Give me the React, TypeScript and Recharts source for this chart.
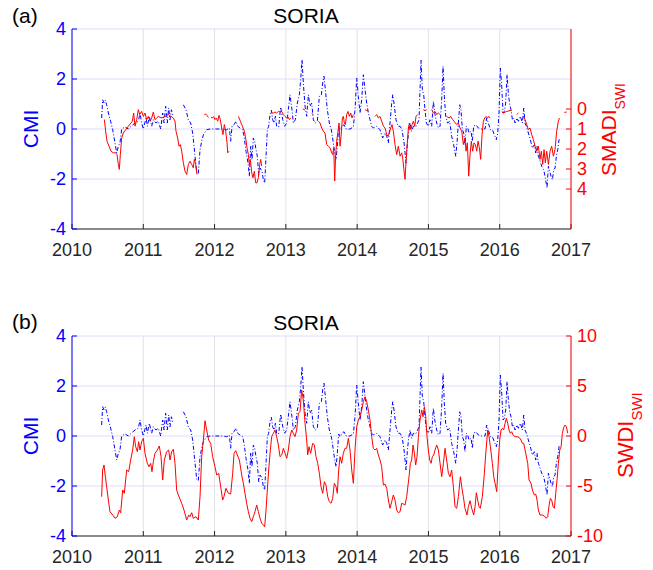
import React from 'react';
import { LineChart, Line, XAxis, YAxis, CartesianGrid } from 'recharts';

type Pt = [number, number | null];

const yearTicks = [2010, 2011, 2012, 2013, 2014, 2015, 2016, 2017];
const cmiTicks = [-4, -2, 0, 2, 4];
const smadiTicks = [0, 1, 2, 3, 4];
const swdiTicks = [-10, -5, 0, 5, 10];

// CMI (left axis), decimal year -> value
const cmiSeries: Pt[] = [
  [2010.416, 0.44], [2010.43, 1.17], [2010.449, 1.04], [2010.468, 1.15], [2010.486, 0.97], [2010.51, 0.64],
  [2010.542, 0.31], [2010.571, -0.03], [2010.603, -0.56], [2010.627, -0.96], [2010.65, -0.69], [2010.673, -0.56],
  [2010.697, 0], [2010.744, 0.08], [2010.79, 0], [2010.837, 0.13], [2010.884, 0.24], [2010.931, 0.31],
  [2010.954, 0.64], [2010.977, 0.24], [2011.001, 0], [2011.038, 0.44], [2011.057, 0.11], [2011.085, 0.51],
  [2011.118, 0.11], [2011.141, 0.37], [2011.178, 0.24], [2011.211, 0.31], [2011.244, 0], [2011.272, 0.64],
  [2011.291, 0.24], [2011.314, 0.91], [2011.337, 0.24], [2011.356, 0.84], [2011.375, 0.37], [2011.394, 0.77],
  [2011.412, 0.57], [2011.49, null], [2011.562, 0.97], [2011.599, 0.77], [2011.632, 0.37], [2011.665, 0.24],
  [2011.693, -0.16], [2011.726, -1.09], [2011.749, -1.73], [2011.772, -1.79], [2011.796, -0.83], [2011.819, -0.49],
  [2011.843, -0.23], [2011.889, -0.03], [2011.936, 0], [2012.123, 0], [2012.17, -0.03], [2012.207, 0.04],
  [2012.226, -0.49], [2012.245, 0.11], [2012.273, 0.17], [2012.301, 0.31], [2012.324, 0.11], [2012.357, 0.04],
  [2012.394, -0.03], [2012.413, -0.29], [2012.441, -0.89], [2012.469, -1.36], [2012.488, -1.89], [2012.507, -0.69],
  [2012.525, -1.23], [2012.544, -0.36], [2012.563, -0.49], [2012.581, -0.83], [2012.6, -1.09], [2012.619, -1.83],
  [2012.638, -1.56], [2012.666, -1.69], [2012.684, -2.03], [2012.703, -2.16], [2012.722, -1.09], [2012.74, -0.03],
  [2012.759, 0.11], [2012.778, 0.57], [2012.797, 0.75], [2012.815, 0.37], [2012.834, 0.24], [2012.853, 0.51],
  [2012.871, 0.11], [2012.899, 0.08], [2012.927, 0.88], [2012.956, 0.37], [2012.984, 0.11], [2013.012, 0.24],
  [2013.04, 0.91], [2013.058, 1.37], [2013.086, 0.77], [2013.105, 0.24], [2013.133, 0.37], [2013.161, 1.04],
  [2013.189, 1.37], [2013.208, 1.97], [2013.227, 2.77], [2013.245, 1.84], [2013.269, 0.91], [2013.292, 0.51],
  [2013.316, 1.37], [2013.339, 0.91], [2013.362, 1.04], [2013.386, 0.37], [2013.414, 0.24], [2013.442, 0.31],
  [2013.47, 1.31], [2013.498, 1.37], [2013.517, 1.84], [2013.535, 2.11], [2013.554, 1.57], [2013.582, 0.77],
  [2013.61, 0.24], [2013.638, -0.03], [2013.666, -0.56], [2013.685, -0.96], [2013.704, -1.23], [2013.722, -0.69],
  [2013.741, 0.08], [2013.76, -0.03], [2013.788, 0.11], [2013.816, 0.17], [2013.844, 0], [2013.9, 0],
  [2013.947, 0.08], [2013.97, 0.77], [2013.994, 2.04], [2014.017, 1.31], [2014.04, 0.64], [2014.064, 1.17],
  [2014.087, 2.17], [2014.111, 1.57], [2014.134, 1.04], [2014.157, 0.64], [2014.181, 0.37], [2014.204, 0.11],
  [2014.227, 0.04], [2014.274, 0.11], [2014.321, -0.03], [2014.358, -0.36], [2014.391, -0.16], [2014.415, -0.29],
  [2014.438, -0.56], [2014.461, 0.24], [2014.485, 1.04], [2014.499, 1.37], [2014.517, 1.04], [2014.545, 0.37],
  [2014.574, 0.11], [2014.602, 0.11], [2014.63, -0.03], [2014.658, -0.56], [2014.686, -1.36], [2014.705, -0.56],
  [2014.723, -0.1], [2014.742, 0.24], [2014.765, -0.09], [2014.789, 0.11], [2014.821, 0.08], [2014.849, 0.24],
  [2014.868, 0.37], [2014.882, 1.57], [2014.896, 2.75], [2014.915, 1.57], [2014.934, 1.37], [2014.952, 0.77],
  [2014.971, 0.24], [2014.999, 0.11], [2015.022, 0.37], [2015.046, 0.11], [2015.069, 1.11], [2015.093, 0.57],
  [2015.116, 0.24], [2015.139, 0.04], [2015.163, 0.11], [2015.186, 1.17], [2015.205, 2.51], [2015.223, 1.31],
  [2015.242, 0.51], [2015.27, 0.24], [2015.298, 0.31], [2015.326, -0.29], [2015.354, -0.63], [2015.383, -1.09],
  [2015.401, -0.56], [2015.42, 0.24], [2015.439, 0.97], [2015.457, 0.77], [2015.476, -0.03], [2015.495, -0.16],
  [2015.513, -0.63], [2015.532, 0.11], [2015.551, 0.04], [2015.57, -0.16], [2015.598, -0.09], [2015.616, -0.49],
  [2015.635, 0.11], [2015.663, 0.17], [2015.701, 0.04], [2015.747, 0], [2015.794, 0], [2015.817, 0.44],
  [2015.841, 0.24], [2015.869, -0.03], [2015.897, -0.03], [2015.925, -0.23], [2015.953, -0.43], [2015.972, -0.16],
  [2015.99, 0.64], [2016.009, 2.44], [2016.028, 1.71], [2016.047, 0.64], [2016.065, 0.71], [2016.084, 1.04],
  [2016.103, 2.17], [2016.121, 1.44], [2016.14, 0.97], [2016.159, 0.77], [2016.178, 0.37], [2016.196, 0.44],
  [2016.215, 0.24], [2016.243, 0.44], [2016.262, 0.31], [2016.29, 0.51], [2016.318, 0.24], [2016.337, 0.84],
  [2016.355, 0.24], [2016.374, 0.11], [2016.402, -0.16], [2016.43, -0.43], [2016.458, -0.76], [2016.486, -0.63],
  [2016.505, -0.96], [2016.524, -0.69], [2016.542, -1.09], [2016.561, -1.23], [2016.589, -1.49], [2016.617, -1.63],
  [2016.636, -1.89], [2016.664, -2.36], [2016.683, -1.49], [2016.701, -1.69], [2016.72, -1.89], [2016.739, -2.03],
  [2016.758, -1.63], [2016.776, -1.56], [2016.795, -1.09], [2016.814, -0.83], [2016.832, -0.43], [2016.851, -0.36],
];

// SMADI_SWI (right axis of panel a, reversed), null = gap
const smadiSeries: Pt[] = [
  [2010.454, 0.53], [2010.472, 1.11], [2010.491, 1.61], [2010.519, 1.86], [2010.547, 2.11], [2010.58, 2.19],
  [2010.613, 2.19], [2010.631, 2.28], [2010.65, 2.77], [2010.664, 3.02], [2010.678, 2.28], [2010.697, 1.45],
  [2010.72, 1.2], [2010.753, 1.03], [2010.79, 0.86], [2010.828, 0.7], [2010.846, 0.61], [2010.865, 0.2],
  [2010.884, 0.86], [2010.907, 0.53], [2010.931, 0.03], [2010.949, 0.28], [2010.977, 0.12], [2011.001, 0.37],
  [2011.024, 0.2], [2011.048, 0.53], [2011.071, 0.37], [2011.094, 0.61], [2011.118, 0.45], [2011.141, 0.15],
  [2011.164, 0.53], [2011.188, 0.45], [2011.211, 0.37], [2011.258, 0.45], [2011.305, 0.37], [2011.351, 0.28],
  [2011.389, 0.37], [2011.422, 0.45], [2011.445, 0.61], [2011.459, 1.11], [2011.482, 1.45], [2011.501, 1.86],
  [2011.52, 1.78], [2011.539, 2.11], [2011.562, 2.69], [2011.585, 3.11], [2011.609, 3.27], [2011.632, 2.77],
  [2011.655, 2.61], [2011.679, 2.77], [2011.702, 2.94], [2011.716, 2.52], [2011.735, 2.77], [2011.754, 3.27],
  [2011.8, null],
  [2011.857, 0.28], [2011.875, 0.25], [2011.894, 0.32], [2011.913, 0.42],
  [2011.93, null],
  [2011.95, 0.42], [2011.969, 0.45], [2011.988, 0.38], [2012.006, 0.53], [2012.025, 0.45], [2012.044, 0.61],
  [2012.062, 0.32], [2012.081, 0.53], [2012.1, 0.95], [2012.118, 1.28], [2012.137, 0.78], [2012.156, 1.11],
  [2012.175, 1.69], [2012.184, 2.19], [2012.203, 2.11],
  [2012.27, null],
  [2012.334, 0.37], [2012.362, 0.61], [2012.39, 0.86], [2012.418, 1.11], [2012.436, 1.45], [2012.455, 1.94],
  [2012.474, 2.28], [2012.488, 2.77], [2012.502, 2.52], [2012.521, 3.19], [2012.539, 3.44], [2012.558, 3.11],
  [2012.577, 3.69], [2012.595, 3.69], [2012.614, 3.44], [2012.633, 2.77], [2012.647, 2.52], [2012.661, 2.86],
  [2012.73, null],
  [2012.801, 0.2], [2012.825, 0.2], [2012.848, 0.15], [2012.871, 0.2], [2012.895, 0.12], [2012.918, 0.15],
  [2012.942, 0.12], [2012.965, 0.28], [2012.988, 0.37], [2013.012, 0.45], [2013.026, 0.37], [2013.05, 0.53],
  [2013.07, 0.45],
  [2013.15, null],
  [2013.236, 0.0], [2013.252, 0.02], [2013.269, 0.05],
  [2013.31, null],
  [2013.362, 0.22], [2013.386, 0.28],
  [2013.42, null],
  [2013.456, 0.61], [2013.479, 0.7], [2013.503, 0.95], [2013.526, 1.11], [2013.549, 1.2], [2013.573, 1.78],
  [2013.596, 1.86], [2013.62, 1.94], [2013.643, 2.19], [2013.657, 2.28], [2013.671, 1.94], [2013.685, 3.6],
  [2013.699, 2.28], [2013.713, 1.61], [2013.732, 1.11], [2013.746, 0.7], [2013.76, 1.86], [2013.774, 1.36],
  [2013.793, 0.45], [2013.807, 0.37], [2013.821, 0.7], [2013.835, 0.78], [2013.853, 0.28], [2013.872, 0.12],
  [2013.891, 0.37], [2013.91, 0.2], [2013.928, 0.45], [2013.947, 0.28],
  [2014.03, null],
  [2014.111, 0.03], [2014.134, 0.08], [2014.157, 0.08],
  [2014.2, null],
  [2014.251, 0.37], [2014.274, 0.28], [2014.298, 0.45], [2014.321, 0.37], [2014.344, 0.61], [2014.368, 0.86],
  [2014.391, 0.95], [2014.415, 1.28], [2014.433, 1.36], [2014.452, 1.2], [2014.471, 0.95], [2014.489, 0.78],
  [2014.508, 1.11], [2014.531, 1.78], [2014.555, 2.28], [2014.578, 1.86], [2014.602, 2.36], [2014.625, 2.19],
  [2014.639, 2.44], [2014.658, 3.11], [2014.672, 3.52], [2014.686, 2.61], [2014.705, 1.61], [2014.719, 0.95],
  [2014.733, 0.7], [2014.752, 1.03], [2014.77, 0.78], [2014.789, 0.61], [2014.808, 0.86], [2014.826, 0.37],
  [2014.845, 0.28],
  [2014.89, null],
  [2014.929, 0.03], [2014.952, 0.08], [2014.976, 0.03],
  [2015.01, null],
  [2015.046, 0.03], [2015.069, 0.2], [2015.093, 0.12], [2015.116, 0.28], [2015.139, 0.2], [2015.163, 0.28],
  [2015.21, null],
  [2015.256, 0.37], [2015.293, 0.45], [2015.312, 0.37], [2015.34, 0.53], [2015.359, 0.61], [2015.378, 0.7],
  [2015.397, 0.78], [2015.42, 0.7], [2015.443, 0.95], [2015.467, 1.11], [2015.49, 1.78], [2015.513, 1.45],
  [2015.527, 2.11], [2015.546, 1.69], [2015.565, 3.36], [2015.584, 2.28], [2015.602, 1.61], [2015.621, 2.11],
  [2015.64, 1.69], [2015.659, 1.78], [2015.677, 2.11], [2015.696, 1.61], [2015.715, 1.94], [2015.733, 2.52],
  [2015.752, 1.28], [2015.771, 0.61], [2015.79, 0.45], [2015.808, 0.37], [2015.827, 0.45], [2015.846, 0.37],
  [2015.864, 0.45],
  [2015.95, null],
  [2016.028, 0.12], [2016.051, 0.2], [2016.098, 0.12], [2016.145, 0.08], [2016.168, 0.08],
  [2016.2, null],
  [2016.238, 0.28], [2016.262, 0.2],
  [2016.3, null],
  [2016.332, 0.37], [2016.355, 0.53], [2016.379, 0.78], [2016.402, 1.03], [2016.425, 0.95], [2016.449, 1.28],
  [2016.472, 1.53], [2016.496, 1.86], [2016.519, 2.11], [2016.542, 1.86], [2016.566, 2.52], [2016.584, 2.11],
  [2016.603, 2.77], [2016.622, 2.03], [2016.64, 2.69], [2016.659, 2.11], [2016.683, 2.77], [2016.706, 2.11],
  [2016.729, 1.86], [2016.753, 2.36], [2016.776, 2.03], [2016.799, 1.11], [2016.823, 0.61], [2016.837, 0.45],
  [2016.87, null],
  [2016.907, 0.17], [2016.94, 0.15],
];

// SWDI_SWI (right axis of panel b)
const swdiSeries: Pt[] = [
  [2010.416, -6.07], [2010.43, -3.4], [2010.449, -2.9], [2010.468, -4.07], [2010.486, -5.07], [2010.51, -6.4],
  [2010.533, -7.57], [2010.571, -7.9], [2010.603, -8.23], [2010.636, -8.07], [2010.664, -7.4], [2010.683, -7.67],
  [2010.711, -5.4], [2010.734, -5.73], [2010.767, -3.4], [2010.795, -3.57], [2010.823, -2.4], [2010.851, -1.4],
  [2010.874, -0.07], [2010.893, -1.07], [2010.917, -1.57], [2010.935, -0.57], [2010.954, -1.4], [2010.977, -0.57],
  [2011.001, -0.23], [2011.024, -1.73], [2011.057, -2.73], [2011.08, -3.07], [2011.104, -2.73], [2011.122, -3.57],
  [2011.141, -2.57], [2011.164, -1.73], [2011.197, -1.4], [2011.225, -1.0], [2011.249, -2.07], [2011.272, -4.4],
  [2011.295, -2.4], [2011.328, -1.57], [2011.356, -1.4], [2011.375, -2.4], [2011.398, -1.57], [2011.422, -1.33],
  [2011.445, -2.73], [2011.468, -5.4], [2011.492, -5.9], [2011.539, -6.73], [2011.571, -7.4], [2011.609, -8.4],
  [2011.637, -7.9], [2011.655, -8.07], [2011.679, -7.67], [2011.702, -8.23], [2011.74, -8.07], [2011.772, -8.4],
  [2011.796, -6.07], [2011.819, -2.07], [2011.843, -0.4], [2011.866, 1.53], [2011.889, 0.6], [2011.917, -0.4],
  [2011.945, -0.73], [2011.973, -2.07], [2012.006, -3.07], [2012.03, -3.9], [2012.058, -3.73], [2012.086, -5.07],
  [2012.114, -6.4], [2012.132, -6.07], [2012.16, -5.23], [2012.193, -5.73], [2012.226, -5.8], [2012.254, -3.73],
  [2012.273, -1.73], [2012.296, -1.47], [2012.319, -1.9], [2012.348, -2.4], [2012.37, -3.4], [2012.385, -4.07],
  [2012.404, -4.73], [2012.427, -5.73], [2012.45, -6.73], [2012.474, -7.57], [2012.497, -8.23], [2012.521, -8.57],
  [2012.544, -8.07], [2012.567, -7.57], [2012.591, -6.9], [2012.614, -7.57], [2012.638, -8.23], [2012.661, -8.73],
  [2012.684, -8.9], [2012.703, -9.07], [2012.722, -7.4], [2012.74, -5.4], [2012.759, -3.4], [2012.778, -1.73],
  [2012.801, -0.07], [2012.825, 0.27], [2012.848, 0.6], [2012.871, -0.07], [2012.895, -0.9], [2012.918, -2.07],
  [2012.942, -1.9], [2012.965, -1.23], [2012.989, -1.73], [2013.012, -2.23], [2013.035, -1.4], [2013.058, -0.07],
  [2013.082, 0.6], [2013.105, 0.27], [2013.128, -0.07], [2013.152, 0.6], [2013.175, 2.27], [2013.199, 2.43],
  [2013.222, 4.6], [2013.245, 3.6], [2013.269, 1.27], [2013.292, -0.4], [2013.306, -1.9], [2013.325, -1.07],
  [2013.348, -1.73], [2013.376, -0.73], [2013.4, -0.9], [2013.423, -2.07], [2013.447, -2.73], [2013.47, -3.73],
  [2013.493, -5.07], [2013.517, -5.73], [2013.54, -4.57], [2013.563, -4.9], [2013.587, -6.07], [2013.61, -6.57],
  [2013.634, -6.73], [2013.657, -6.23], [2013.68, -4.73], [2013.704, -5.07], [2013.722, -5.73], [2013.741, -3.4],
  [2013.76, -2.07], [2013.783, -2.73], [2013.806, -1.73], [2013.83, -1.23], [2013.853, -1.23], [2013.877, -0.23],
  [2013.9, -1.4], [2013.924, -3.4], [2013.947, -4.73], [2013.97, -1.4], [2013.994, 0.93], [2014.017, 1.6],
  [2014.04, 1.93], [2014.064, 2.6], [2014.087, 3.43], [2014.111, 3.93], [2014.134, 3.43], [2014.157, 2.6],
  [2014.181, 1.6], [2014.204, -0.07], [2014.227, -1.23], [2014.251, -1.4], [2014.274, -1.23], [2014.298, -1.9],
  [2014.321, -2.4], [2014.344, -3.07], [2014.368, -4.9], [2014.391, -4.8], [2014.415, -5.23], [2014.438, -6.4],
  [2014.461, -7.23], [2014.485, -6.57], [2014.508, -5.9], [2014.531, -6.4], [2014.555, -7.4], [2014.578, -7.67],
  [2014.602, -7.57], [2014.625, -6.73], [2014.648, -6.8], [2014.672, -6.9], [2014.695, -6.07], [2014.728, -4.07],
  [2014.747, -2.73], [2014.765, -2.4], [2014.784, -0.9], [2014.803, -1.73], [2014.821, -2.9], [2014.84, -2.07],
  [2014.859, -0.07], [2014.882, 1.6], [2014.906, 2.6], [2014.924, 1.93], [2014.943, 2.93], [2014.962, 1.93],
  [2014.98, -0.07], [2014.999, -1.4], [2015.018, -2.4], [2015.037, -2.73], [2015.055, -2.07], [2015.074, -1.9],
  [2015.093, -1.4], [2015.116, -0.9], [2015.139, -1.4], [2015.163, -2.73], [2015.186, -4.07], [2015.21, -2.73],
  [2015.233, -1.23], [2015.256, -2.4], [2015.28, -3.73], [2015.303, -4.07], [2015.326, -3.4], [2015.35, -5.07],
  [2015.373, -7.07], [2015.397, -7.23], [2015.42, -6.07], [2015.448, -4.07], [2015.467, -5.07], [2015.49, -6.07],
  [2015.513, -7.23], [2015.541, -7.9], [2015.56, -7.07], [2015.584, -6.47], [2015.607, -7.23], [2015.635, -7.9],
  [2015.654, -7.07], [2015.672, -5.67], [2015.691, -6.4], [2015.71, -7.07], [2015.728, -7.23], [2015.756, -6.07],
  [2015.785, -3.73], [2015.808, -1.4], [2015.832, 0.6], [2015.85, -0.07], [2015.869, -1.07], [2015.897, -2.73],
  [2015.916, -4.07], [2015.935, -4.73], [2015.958, -5.57], [2015.981, -2.4], [2016.0, -0.4], [2016.018, 0.6],
  [2016.037, 0.77], [2016.056, 0.6], [2016.075, 1.27], [2016.093, 1.77], [2016.112, 1.27], [2016.131, 0.6],
  [2016.149, 0.27], [2016.168, 0.43], [2016.187, 0.1], [2016.215, -0.07], [2016.243, -0.07], [2016.271, -0.13],
  [2016.299, -0.4], [2016.318, -0.73], [2016.337, -0.73], [2016.365, -1.73], [2016.393, -2.73], [2016.411, -4.4],
  [2016.439, -4.73], [2016.458, -5.4], [2016.486, -5.9], [2016.505, -5.8], [2016.524, -6.4], [2016.542, -7.4],
  [2016.565, -7.9], [2016.598, -7.9], [2016.626, -8.0], [2016.654, -8.23], [2016.673, -8.07], [2016.69, -7.07],
  [2016.71, -6.23], [2016.729, -6.4], [2016.748, -7.07], [2016.767, -7.23], [2016.786, -5.73], [2016.804, -4.4],
  [2016.823, -2.73], [2016.842, -1.4], [2016.861, -1.07], [2016.879, 0.27], [2016.898, 0.87], [2016.917, 1.1],
  [2016.935, 0.93], [2016.954, 0.27],
];

const toRows = (s: Pt[]) => s.map(([t, v]) => ({ t, v }));
const cmiRows = toRows(cmiSeries);
const smadiRows = toRows(smadiSeries);
const swdiRows = toRows(swdiSeries);

const FONT = '"Liberation Sans", Arial, Helvetica, sans-serif';
const BLUE = '#0000ff';
const RED = '#ff0000';
const DARK = '#262626';

type PanelProps = {
  top: number;
  height: number;
  marginTop: number;
  marginBottom: number;
  rightRows: { t: number; v: number | null }[];
  rightDomain: [number, number];
  rightTicks: number[];
  reversed: boolean;
  rightFontSize: number;
};

function Panel(p: PanelProps) {
  return (
    <div style={{ position: 'absolute', left: 0, top: p.top, width: 653, height: p.height }}>
      <LineChart
        width={653}
        height={p.height}
        margin={{ top: p.marginTop, right: 42, bottom: p.marginBottom, left: 32 }}
      >
        <CartesianGrid xAxisId="bottom" yAxisId="left" vertical={false} stroke="#dcdcff" strokeWidth={1} />
        <CartesianGrid xAxisId="bottom" yAxisId="left" horizontal={false} stroke="#e2e2e2" strokeWidth={1} />
        <XAxis
          xAxisId="bottom"
          dataKey="t"
          type="number"
          domain={[2010, 2017]}
          ticks={yearTicks}
          interval={0}
          allowDataOverflow
          height={30}
          stroke={DARK}
          tickSize={-5}
          tickMargin={19}
          tick={{ fill: DARK, fontSize: 18 }}
        />
        <XAxis
          xAxisId="top"
          orientation="top"
          dataKey="t"
          type="number"
          domain={[2010, 2017]}
          ticks={yearTicks}
          interval={0}
          allowDataOverflow
          height={0}
          stroke={DARK}
          tickSize={-5}
          tick={false}
        />
        <YAxis
          yAxisId="left"
          type="number"
          domain={[-4, 4]}
          ticks={cmiTicks}
          interval={0}
          allowDataOverflow
          width={40}
          stroke={BLUE}
          tickSize={-5}
          tickMargin={11}
          tick={{ fill: BLUE, fontSize: 18 }}
        />
        <YAxis
          yAxisId="right"
          orientation="right"
          type="number"
          domain={p.rightDomain}
          reversed={p.reversed}
          ticks={p.rightTicks}
          interval={0}
          allowDataOverflow
          width={40}
          stroke={RED}
          tickSize={-5}
          tickMargin={11}
          tick={{ fill: RED, fontSize: p.rightFontSize }}
        />
        <Line
          xAxisId="bottom"
          yAxisId="left"
          data={cmiRows}
          dataKey="v"
          type="linear"
          stroke={BLUE}
          strokeWidth={1}
          strokeDasharray="4 2 1 2"
          dot={false}
          isAnimationActive={false}
        />
        <Line
          xAxisId="bottom"
          yAxisId="right"
          data={p.rightRows}
          dataKey="v"
          type="linear"
          stroke={RED}
          strokeWidth={1}
          dot={false}
          isAnimationActive={false}
        />
      </LineChart>
    </div>
  );
}

export default function App() {
  return (
    <div style={{ position: 'absolute', left: 0, top: 0, width: 653, height: 570, background: '#fff', fontFamily: FONT }}>
      <Panel
        top={0}
        height={262}
        marginTop={29}
        marginBottom={3}
        rightRows={smadiRows}
        rightDomain={[-4, 6]}
        rightTicks={smadiTicks}
        reversed={true}
        rightFontSize={18}
      />
      <Panel
        top={300}
        height={270}
        marginTop={36}
        marginBottom={4}
        rightRows={swdiRows}
        rightDomain={[-10, 10]}
        rightTicks={swdiTicks}
        reversed={false}
        rightFontSize={18}
      />
      <svg width={653} height={570} style={{ position: 'absolute', left: 0, top: 0, pointerEvents: 'none' }} fontFamily={FONT}>
        <text x={12} y={23} fontSize={21} fill="#000">(a)</text>
        <text x={306} y={23} fontSize={21} fill="#000" textAnchor="middle">SORIA</text>
        <text x={38} y={129} fontSize={21} fill={BLUE} textAnchor="middle" transform="rotate(-90 38 129)">CMI</text>
        <text x={616} y={176} fontSize={21} fill={RED} transform="rotate(-90 616 176)">
          <tspan>SMADI</tspan>
          <tspan dy={9} fontSize={14}>SWI</tspan>
        </text>
        <text x={12} y={329} fontSize={21} fill="#000">(b)</text>
        <text x={306} y={330} fontSize={21} fill="#000" textAnchor="middle">SORIA</text>
        <text x={38} y={436} fontSize={21} fill={BLUE} textAnchor="middle" transform="rotate(-90 38 436)">CMI</text>
        <text x={633} y={478} fontSize={22} fill={RED} transform="rotate(-90 633 478)">
          <tspan>SWDI</tspan>
          <tspan dy={9} fontSize={15}>SWI</tspan>
        </text>
      </svg>
    </div>
  );
}
